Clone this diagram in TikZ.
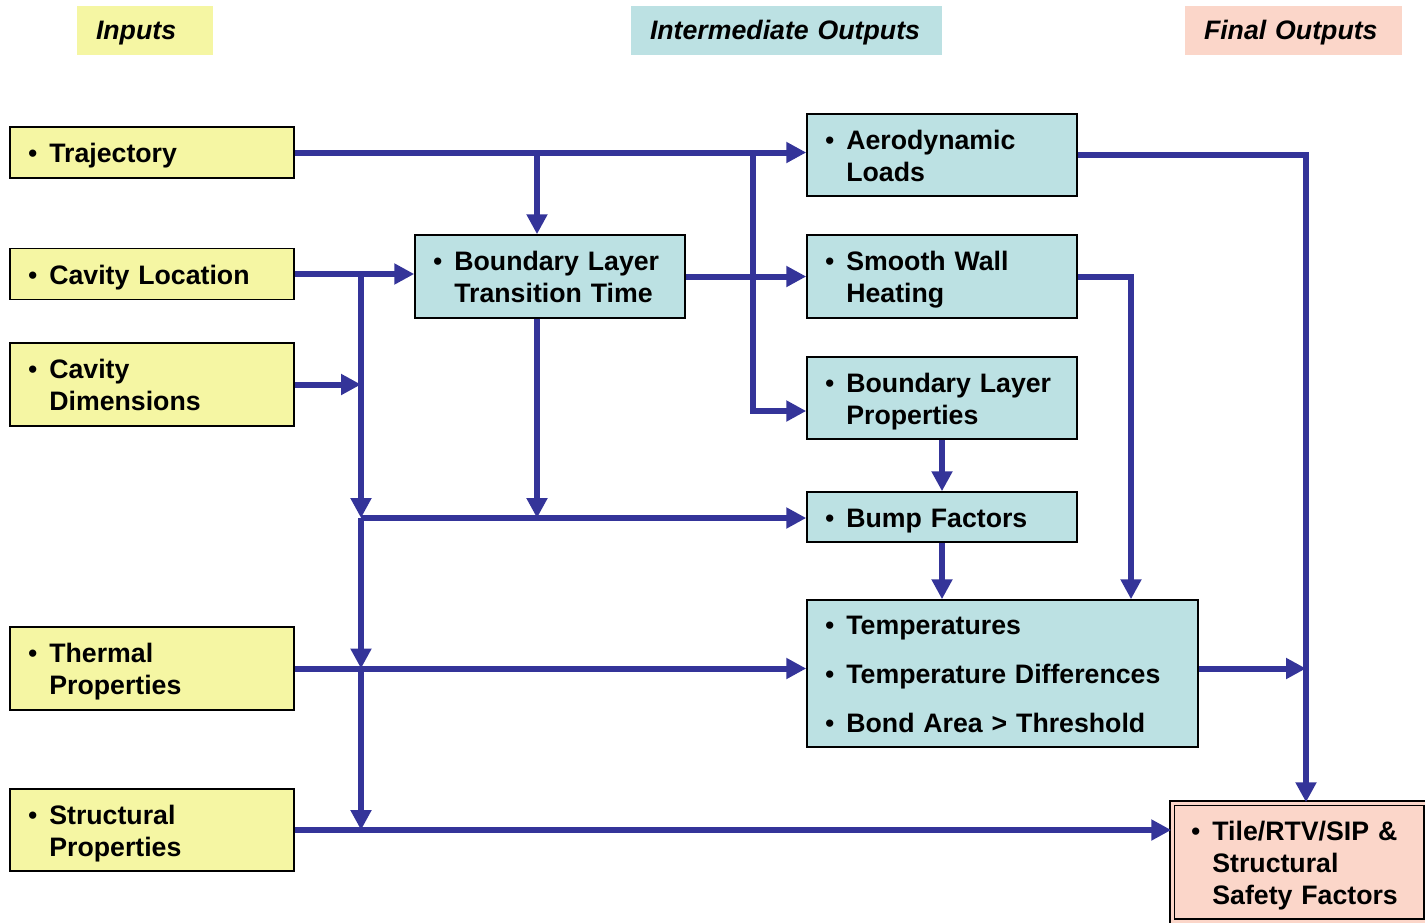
\documentclass[tikz,border=0pt]{standalone}
\usepackage{fontspec}
\setmainfont{Liberation Sans}
\usepackage{xcolor}
\usepackage{tikz}
\usetikzlibrary{arrows.meta}
\definecolor{inyellow}{HTML}{F5F6A3}
\definecolor{midblue}{HTML}{BCE1E3}
\definecolor{finpink}{HTML}{FBD6C9}
\definecolor{flowblue}{HTML}{343499}
\newcommand{\dotmark}{{\mdseries\textbullet}}
\newcommand{\bul}[1]{\rule{0pt}{30pt}\dotmark\hspace{12pt}\begin{tabular}[t]{@{}l@{}}#1\end{tabular}}
\tikzset{
  box/.style={draw=black, line width=1.5pt, inner xsep=18pt, inner ysep=0pt, align=left},
  inbox/.style={box, fill=inyellow, text width=248pt},
  midbox/.style={box, fill=midblue, text width=234pt},
  finbox/.style={box, fill=finpink, draw=black, double=finpink, double distance=3pt,
    inner xsep=19pt, text width=216pt},
  hdr/.style={inner xsep=19pt, inner ysep=0pt, align=left, minimum height=49pt,
    font=\fontsize{26.7}{32}\selectfont\bfseries\itshape,
    execute at begin node=\rule[-9pt]{0pt}{36pt}},
  flow/.style={draw=flowblue, line width=6pt, -{Triangle[length=20pt,width=20pt]}}
}
\begin{document}
\begin{tikzpicture}[x=1pt, y=-1pt, font=\fontsize{26.7}{32}\selectfont\bfseries]
  \useasboundingbox (0,0) rectangle (1425,922);

  \node[hdr, fill=inyellow, text width=98pt] (hin) at (145,30.5) {Inputs};
  \node[hdr, fill=midblue, text width=273pt] (hmid) at (786.5,30.5) {Intermediate Outputs};
  \node[hdr, fill=finpink, text width=179pt] (hfin) at (1293.5,30.5) {Final Outputs};

  \node[inbox, minimum height=51pt] (traj) at (152,152.5) {\bul{Trajectory}};
  \node[inbox, minimum height=51pt] (cavloc) at (152,274) {\bul{Cavity Location}};
  \node[inbox, minimum height=83pt] (cavdim) at (152,384.5) {\bul{Cavity\\Dimensions}};
  \node[inbox, minimum height=83pt] (therm) at (152,668.5) {\bul{Thermal\\Properties}};
  \node[inbox, minimum height=82pt] (struct) at (152,830) {\bul{Structural\\Properties}};

  \node[midbox, minimum height=83pt] (bltt) at (550,276.5) {\bul{Boundary Layer\\Transition Time}};
  \node[midbox, minimum height=82pt] (aero) at (942,155) {\bul{Aerodynamic\\Loads}};
  \node[midbox, minimum height=83pt] (swh) at (942,276.5) {\bul{Smooth Wall\\Heating}};
  \node[midbox, minimum height=82pt] (blp) at (942,398) {\bul{Boundary Layer\\Properties}};
  \node[midbox, minimum height=50pt] (bump) at (942,517) {\bul{Bump Factors}};
  \node[midbox, text width=355pt, minimum height=147pt] (temps) at (1002.5,673.5)
    {\rule{0pt}{30pt}\begin{tabular}[t]{@{}l@{\hspace{12pt}}l@{}}\dotmark & Temperatures\\[17pt]
     \dotmark & Temperature Differences\\[17pt]
     \dotmark & Bond Area > Threshold\end{tabular}};

  \node[finbox, minimum height=118pt, minimum width=254pt] (safety) at (1299,862)
    {\bul{Tile/RTV/SIP \&\\Structural\\Safety Factors}};

  \coordinate (ta) at (537,152.5);
  \coordinate (tb) at (753,152.5);
  \coordinate (tc) at (753,411);
  \coordinate (ca) at (361,274);
  \coordinate (cc) at (361,518);
  \coordinate (cd) at (361,668.5);
  \coordinate (ce) at (361,830);
  \coordinate (ba) at (537,518);
  \coordinate (ra) at (1306,155);
  \coordinate (rb) at (1131,276.5);

  \draw[flow] (traj.east) -- (traj.east -| aero.west);
  \draw[flow] (ta) -- (ta |- bltt.north);
  \draw[flow] (tb) -- (tc) -- (tc -| blp.west);
  \draw[flow] (cavloc.east) -- (cavloc.east -| bltt.west);
  \draw[flow] (ca) -- (cc);
  \draw[flow] (cavdim.east) -- (cavdim.east -| ca);
  \draw[flow] (bltt.east) -- (bltt.east -| swh.west);
  \draw[flow] (bltt.south -| ta) -- (ba);
  \draw[flow] (cc) -- (cc -| bump.west);
  \draw[flow] (cc) -- (cd);
  \draw[flow] (therm.east) -- (therm.east -| temps.west);
  \draw[flow] (cd) -- (ce);
  \draw[flow] (struct.east) -- (struct.east -| safety.west);
  \draw[flow] (aero.east) -- (ra) -- (ra |- safety.north);
  \draw[flow] (swh.east) -- (rb) -- (rb |- temps.north);
  \draw[flow] (blp.south) -- (bump.north);
  \draw[flow] (bump.south) -- (bump.south |- temps.north);
  \draw[flow] (temps.east |- therm.east) -- (therm.east -| ra);
\end{tikzpicture}
\end{document}
